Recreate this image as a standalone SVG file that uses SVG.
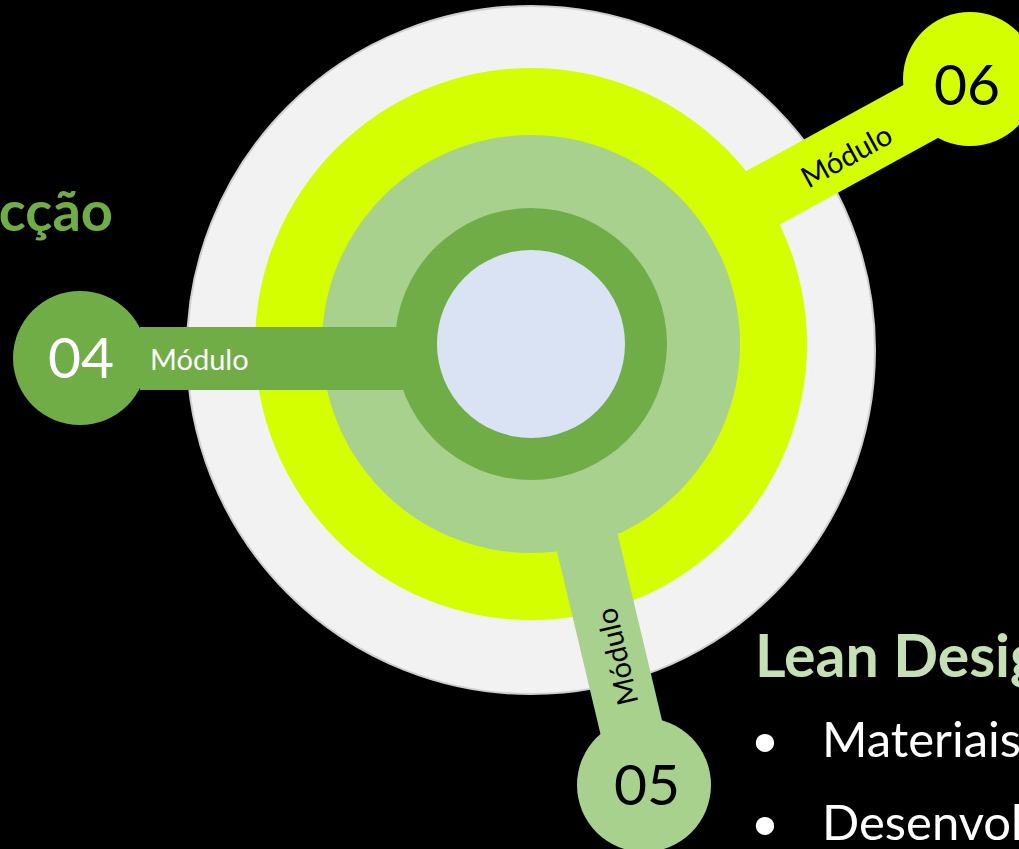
<svg xmlns="http://www.w3.org/2000/svg" width="1019" height="849" viewBox="0 0 1019 849">
<style>
.lbl{font-family:Lato,"Liberation Sans",sans-serif;font-size:29px}
.num{font-family:Lato,"Liberation Sans",sans-serif;font-size:57px;font-weight:400;text-anchor:middle}
.body{font-family:Lato,"Liberation Sans",sans-serif;font-size:49px;fill:#FFFFFF}
.head{font-family:Lato,"Liberation Sans",sans-serif;font-weight:bold}
</style>
<rect x="0" y="0" width="1019" height="849" fill="#000000"/>
<g id="center">
  <circle cx="531" cy="350" r="344" fill="#F2F2F2" stroke="#CFCFCF" stroke-width="2"/>
  <circle cx="531" cy="344" r="276" fill="#D4FF00"/>
  <circle cx="531" cy="344" r="209" fill="#A9D18E"/>
  <circle cx="531" cy="344" r="136" fill="#70AD47"/>
  <circle cx="531" cy="344" r="94" fill="#DAE3F3"/>
</g>
<g id="connectors">
  <rect x="140" y="327" width="280" height="63" fill="#70AD47"/>
  <rect x="0" y="-31.5" width="255" height="63" fill="#A9D18E" transform="translate(579.5,510) rotate(76.6)"/>
  <rect x="0" y="-31.5" width="225" height="63" fill="#D4FF00" transform="translate(745,207.6) rotate(-28.7)"/>
</g>
<g id="node04">
  <circle cx="80" cy="358" r="67" fill="#70AD47"/>
  <text class="num" x="81" y="378" fill="#FFFFFF">04</text>
  <text class="lbl" x="150" y="370" fill="#FFFFFF">Módulo</text>
</g>
<g id="node05">
  <circle cx="644" cy="785" r="67" fill="#A9D18E"/>
  <text class="num" x="647" y="805" fill="#000000">05</text>
  <text class="lbl" x="0" y="0" fill="#000000" text-anchor="middle" dominant-baseline="central" transform="translate(616,657) rotate(-103.4)">Módulo</text>
</g>
<g id="node06">
  <circle cx="970" cy="79" r="67" fill="#D4FF00"/>
  <text class="num" x="967" y="105" fill="#000000">06</text>
  <text class="lbl" x="0" y="0" fill="#000000" text-anchor="middle" dominant-baseline="central" transform="translate(846,155) rotate(-28.7)">Módulo</text>
</g>
<g id="texts">
  <text class="head" x="113" y="231" font-size="56" fill="#70AD47" text-anchor="end">cção</text>
  <text class="head" x="755" y="677" font-size="59" fill="#C5E0B4">Lean Desig</text>
  <text class="body" x="765" y="757" text-anchor="middle">•</text>
  <text class="body" x="822" y="757">Materiais</text>
  <text class="body" x="765" y="840" text-anchor="middle">•</text>
  <text class="body" x="822" y="840">Desenvolv</text>
</g>
</svg>
